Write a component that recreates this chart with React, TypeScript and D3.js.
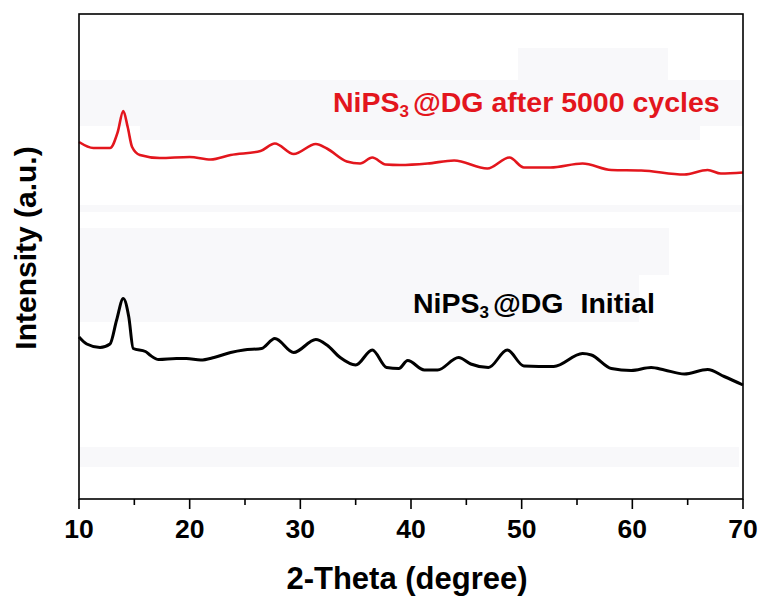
import React from "react";
import * as d3 from "d3";

// 2-Theta (degree) and relative intensity (a.u.)
const redTheta = [10, 11.3, 12.8, 13.5, 14.0, 14.4, 14.8, 15.5, 17.3, 20.0, 21.9, 23.7, 26.4, 27.7, 29.4, 31.4, 32.4, 34.2, 35.4, 36.5, 37.7, 39.0, 41.5, 43.9, 46.9, 48.9, 50.2, 52.6, 55.5, 58.1, 60.8, 64.7, 66.8, 68.0, 70];
const redIntensity = [357, 351, 351, 367, 388, 372, 352, 344, 341, 342, 339.5, 344, 348, 355.5, 345, 355, 350.5, 337.5, 335.5, 341.5, 334.5, 334, 335.5, 338.5, 330.5, 341.5, 331.5, 331.5, 335.5, 329, 328.5, 324.5, 329, 325.5, 326.5];

const blackTheta = [10, 10.7, 11.9, 12.8, 13.4, 14.0, 14.5, 14.9, 16.0, 16.4, 17.2, 18.8, 19.7, 21.0, 22.2, 23.7, 24.9, 26.5, 27.7, 29.4, 31.4, 32.4, 33.6, 35.0, 36.5, 37.8, 38.9, 39.7, 41.2, 42.4, 44.3, 45.4, 47.0, 48.7, 50.2, 52.9, 55.5, 56.3, 58.1, 59.9, 61.7, 62.9, 64.7, 66.8, 68.3, 70];
const blackIntensity = [162, 155, 151.5, 155, 179, 200.5, 182, 150.5, 147.5, 144, 139.5, 140.5, 140.5, 139, 141.5, 146.5, 149, 150.5, 160.5, 146.5, 159.5, 154, 141.5, 134, 149, 131.5, 130.5, 138.5, 129, 129, 141.5, 135, 131.5, 149, 133, 132.5, 145.5, 144, 130.5, 128.5, 131.5, 129, 125, 129.5, 122.5, 114];

const xTicks = [10, 20, 30, 40, 50, 60, 70];
const xMinorTicks = [15, 25, 35, 45, 55, 65];

const W = 760, H = 597;
const L = 79, R = 743, T = 14, B = 499;

export default function App() {
  const x = d3.scaleLinear().domain([10, 70]).range([L, R]);
  const y = d3.scaleLinear().domain([0, 485]).range([B, T]);
  const line = d3
    .line<[number, number]>()
    .x((d) => x(d[0]))
    .y((d) => y(d[1]))
    .curve(d3.curveMonotoneX);
  const red = line(redTheta.map((t, i) => [t, redIntensity[i]]) as [number, number][]) || "";
  const black = line(blackTheta.map((t, i) => [t, blackIntensity[i]]) as [number, number][]) || "";
  const font = "'Liberation Sans', Arial, Helvetica, sans-serif";
  const band = "#f8f8fa";

  return (
    <svg width={W} height={H} style={{ position: "absolute", left: 0, top: 0, background: "#fff" }} fontFamily={font}>
      {/* faint background bands of the original picture */}
      <rect x={518} y={48} width={150} height={32} fill={band} />
      <rect x={L} y={80} width={R - L} height={46} fill={band} />
      <rect x={140} y={126} width={560} height={14} fill={band} />
      <rect x={L} y={205} width={R - L} height={7} fill={band} />
      <rect x={L} y={228} width={590} height={47} fill={band} />
      <rect x={L} y={275} width={560} height={47} fill={band} />
      <rect x={L} y={447} width={R - L - 4} height={20} fill={band} />

      <path d={red} fill="none" stroke="#e3161d" strokeWidth={2.6} strokeLinejoin="round" />
      <path d={black} fill="none" stroke="#000" strokeWidth={3} strokeLinejoin="round" />

      <rect x={L} y={T} width={R - L} height={B - T} fill="none" stroke="#000" strokeWidth={1.6} />

      {xTicks.map((t) => (
        <g key={"M" + t}>
          <line x1={x(t)} x2={x(t)} y1={B} y2={B + 10} stroke="#000" strokeWidth={1.6} />
          <text x={x(t)} y={538} textAnchor="middle" fontSize={26.5} fontWeight="bold" fill="#000">
            {t}
          </text>
        </g>
      ))}
      {xMinorTicks.map((t) => (
        <line key={"m" + t} x1={x(t)} x2={x(t)} y1={B} y2={B + 6} stroke="#000" strokeWidth={1.6} />
      ))}

      <text x={(L + R) / 2 - 4} y={589} textAnchor="middle" fontSize={31} fontWeight="bold" fill="#000">
        2-Theta (degree)
      </text>
      <text
        transform={`translate(36, 248) rotate(-90)`}
        textAnchor="middle"
        fontSize={30}
        fontWeight="bold"
        fill="#000"
      >
        Intensity (a.u.)
      </text>

      <text x={333} y={112} fontSize={28.5} fontWeight="bold" fill="#e3161d">
        NiPS<tspan fontSize={17} dy={5}>3</tspan>
        <tspan dy={-5} dx={4}>@DG after 5000 cycles</tspan>
      </text>
      <text x={413} y={313} fontSize={28.5} fontWeight="bold" fill="#000">
        NiPS<tspan fontSize={17} dy={5}>3</tspan>
        <tspan dy={-5} dx={4}>@DG</tspan>
        <tspan dx={17}>Initial</tspan>
      </text>
    </svg>
  );
}
